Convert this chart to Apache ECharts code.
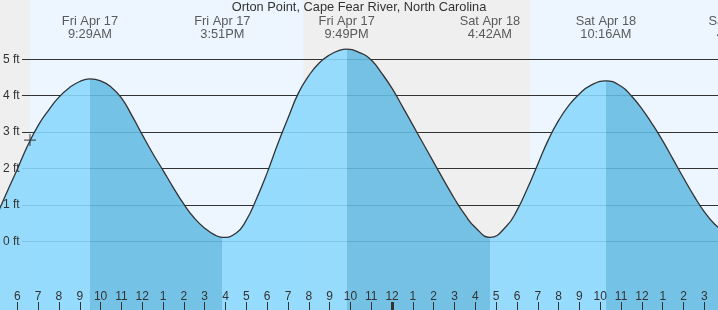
<!DOCTYPE html>
<html><head><meta charset="utf-8">
<script src="https://cdn.jsdelivr.net/npm/echarts@6/dist/echarts.min.js"></script>
<style>html,body{margin:0;padding:0;background:#edf6fe}#c{width:718px;height:310px}</style>
</head><body><div id="c"></div>
<script>
// ---- data ----
const titleText = 'Orton Point, Cape Fear River, North Carolina';
// hours counted from Fri Apr 17 00:00, heights in ft
const tideTimes = [5.0, 5.5, 6.0, 6.5, 7.0, 7.5, 8.0, 8.5, 9.0, 9.49,
  10.0, 10.5, 11.0, 11.5, 12.0, 12.5, 13.0, 13.5, 14.0, 14.5, 15.0, 15.5, 15.85,
  16.5, 17.0, 17.5, 18.0, 18.5, 19.0, 19.5, 20.0, 20.5, 21.0, 21.5, 21.82,
  22.5, 23.0, 23.5, 24.0, 24.5, 25.0, 25.5, 26.0, 26.5, 27.0, 27.5, 28.0, 28.7,
  29.5, 30.0, 30.5, 31.0, 31.5, 32.0, 32.5, 33.0, 33.5, 34.27,
  35.0, 35.5, 36.0, 36.5, 37.0, 37.5, 38.0, 38.5, 39.0, 39.5, 40.0, 40.65];
const tideFeet = [0.70, 1.35, 1.98, 2.63, 3.18, 3.60, 3.96, 4.22, 4.39, 4.46,
  4.41, 4.24, 3.94, 3.46, 2.93, 2.42, 1.95, 1.47, 1.02, 0.64, 0.36, 0.17, 0.11,
  0.22, 0.58, 1.18, 1.88, 2.66, 3.38, 4.07, 4.55, 4.90, 5.12, 5.25, 5.28,
  5.17, 4.98, 4.62, 4.20, 3.70, 3.19, 2.68, 2.17, 1.66, 1.17, 0.73, 0.38, 0.11,
  0.42, 0.85, 1.45, 2.12, 2.78, 3.32, 3.74, 4.05, 4.27, 4.41,
  4.26, 3.99, 3.64, 3.22, 2.76, 2.25, 1.74, 1.25, 0.81, 0.47, 0.26, 0.15];
const extremeTimes = [9.49, 15.85, 21.82, 28.7, 34.27, 40.65];
const extremeDays  = ['Fri Apr 17', 'Fri Apr 17', 'Fri Apr 17', 'Sat Apr 18', 'Sat Apr 18', 'Sat Apr 18'];
const extremeClock = ['9:29AM', '3:51PM', '9:49PM', '4:42AM', '10:16AM', '4:39PM'];
const ebbStarts = [9.49, 21.82, 34.27];
const ebbEnds   = [15.85, 28.7, 40.65];
const nightStarts = [5.0, 19.74];
const nightEnds   = [6.61, 30.62];
const hourTicks = [6, 7, 8, 9, 10, 11, 12, 13, 14, 15, 16, 17, 18, 19, 20, 21, 22, 23, 24, 25, 26, 27, 28, 29, 30, 31, 32, 33, 34, 35, 36, 37, 38, 39];
const midnightTicks = [24];
const footTicks = [0, 1, 2, 3, 4, 5];
const nowTime = [6.61];
const nowFeet = [2.78];
const xMin = 5.169, xMax = 39.655;
const yMin = -1.887, yMax = 6.629;

// ---- styles ----
const FONT = 'Liberation Sans';
const TXT = '#333';
const lightFill = 'rgb(138,216,254)';
const darkFill = 'rgb(100,187,227)';
const nightColor = '#efefef';
const pxPerHour = 718 / (xMax - xMin);

const pieces = [{ lt: ebbStarts[0], color: lightFill }];
for (let i = 0; i < ebbStarts.length; i++) {
  pieces.push({ gte: ebbStarts[i], lt: ebbEnds[i], color: darkFill });
  pieces.push({ gte: ebbEnds[i], lt: (i + 1 < ebbStarts.length ? ebbStarts[i + 1] : 1000), color: lightFill });
}

const tideData = tideTimes.map((t, i) => [t, tideFeet[i]]);
const nightAreas = nightStarts.map((s, i) => [{ xAxis: s }, { xAxis: nightEnds[i] }]);
const extremeData = extremeTimes.map((t, i) => ({ value: [t, yMax], name: extremeDays[i] + '\n' + extremeClock[i] }));

const chart = echarts.init(document.getElementById('c'), null, { renderer: 'canvas' });
chart.setOption({
  backgroundColor: '#edf6fe',
  animation: false,
  title: {
    text: titleText, left: 'center', top: 1, padding: 0,
    textStyle: { fontFamily: FONT, fontSize: 12.8, fontWeight: 'normal', color: TXT, lineHeight: 13 }
  },
  grid: [
    { left: 22, right: 0, top: 0, bottom: 0 },
    { left: 0, right: 0, top: 0, bottom: 0 }
  ],
  visualMap: {
    type: 'piecewise', show: false, dimension: 0, seriesIndex: 0, pieces: pieces
  },
  xAxis: [
    { gridIndex: 0, type: 'value', min: xMin + 22 / pxPerHour, max: xMax, show: false },
    { gridIndex: 1, type: 'value', position: 'bottom', min: xMin, max: xMax, z: 5,
      axisLine: { show: false, onZero: false }, splitLine: { show: false },
      axisTick: { show: true, inside: true, length: 8, customValues: hourTicks, lineStyle: { color: TXT, width: 1 } },
      axisLabel: { show: true, inside: true, margin: 7, customValues: hourTicks, color: TXT, fontFamily: FONT, fontSize: 12,
        formatter: v => String((Math.round(v) % 12) || 12) } },
    { gridIndex: 1, type: 'value', position: 'bottom', min: xMin, max: xMax, z: 5,
      axisLine: { show: false, onZero: false }, splitLine: { show: false }, axisLabel: { show: false },
      axisTick: { show: true, inside: true, length: 8, customValues: midnightTicks, lineStyle: { color: TXT, width: 3 } } }
  ],
  yAxis: [
    { gridIndex: 0, type: 'value', min: yMin, max: yMax, z: 1,
      axisLine: { show: false }, axisLabel: { show: false },
      axisTick: { show: false, customValues: footTicks },
      splitLine: { show: true, lineStyle: { color: TXT, width: 1 } } },
    { gridIndex: 1, type: 'value', min: yMin, max: yMax, z: 5,
      axisLine: { show: false, onZero: false }, splitLine: { show: false }, axisTick: { show: false },
      axisLabel: { show: true, inside: true, margin: 3, customValues: footTicks, color: TXT, fontFamily: FONT, fontSize: 12,
        formatter: v => v + ' ft' } }
  ],
  series: [
    { type: 'line', xAxisIndex: 1, yAxisIndex: 1, data: tideData, smooth: 0.5, showSymbol: false, silent: true, z: 2,
      lineStyle: { width: 0 }, areaStyle: { origin: 'start', opacity: 0.88 },
      markArea: { silent: true, z: 0.5, itemStyle: { color: nightColor }, data: nightAreas } },
    { type: 'line', xAxisIndex: 1, yAxisIndex: 1, data: tideData, smooth: 0.5, showSymbol: false, silent: true, z: 3,
      lineStyle: { color: TXT, width: 1.3 }, itemStyle: { color: TXT } },
    { type: 'scatter', xAxisIndex: 1, yAxisIndex: 1, data: nowTime.map((t, i) => [t, nowFeet[i]]), z: 4, silent: true,
      symbol: 'path://M5.4,0h1.2v5.4h5.4v1.2h-5.4v5.4h-1.2v-5.4h-5.4v-1.2h5.4z', symbolSize: 12,
      itemStyle: { color: TXT } },
    { type: 'scatter', xAxisIndex: 1, yAxisIndex: 1, data: extremeData, z: 6, silent: true, clip: false,
      symbol: 'circle', symbolSize: 1, itemStyle: { color: 'rgba(0,0,0,0)' },
      label: { show: true, position: 'bottom', distance: 15, formatter: p => p.name, color: TXT,
        fontFamily: FONT, fontSize: 12.8, lineHeight: 12.5, align: 'center' } }
  ]
});
</script></body></html>
